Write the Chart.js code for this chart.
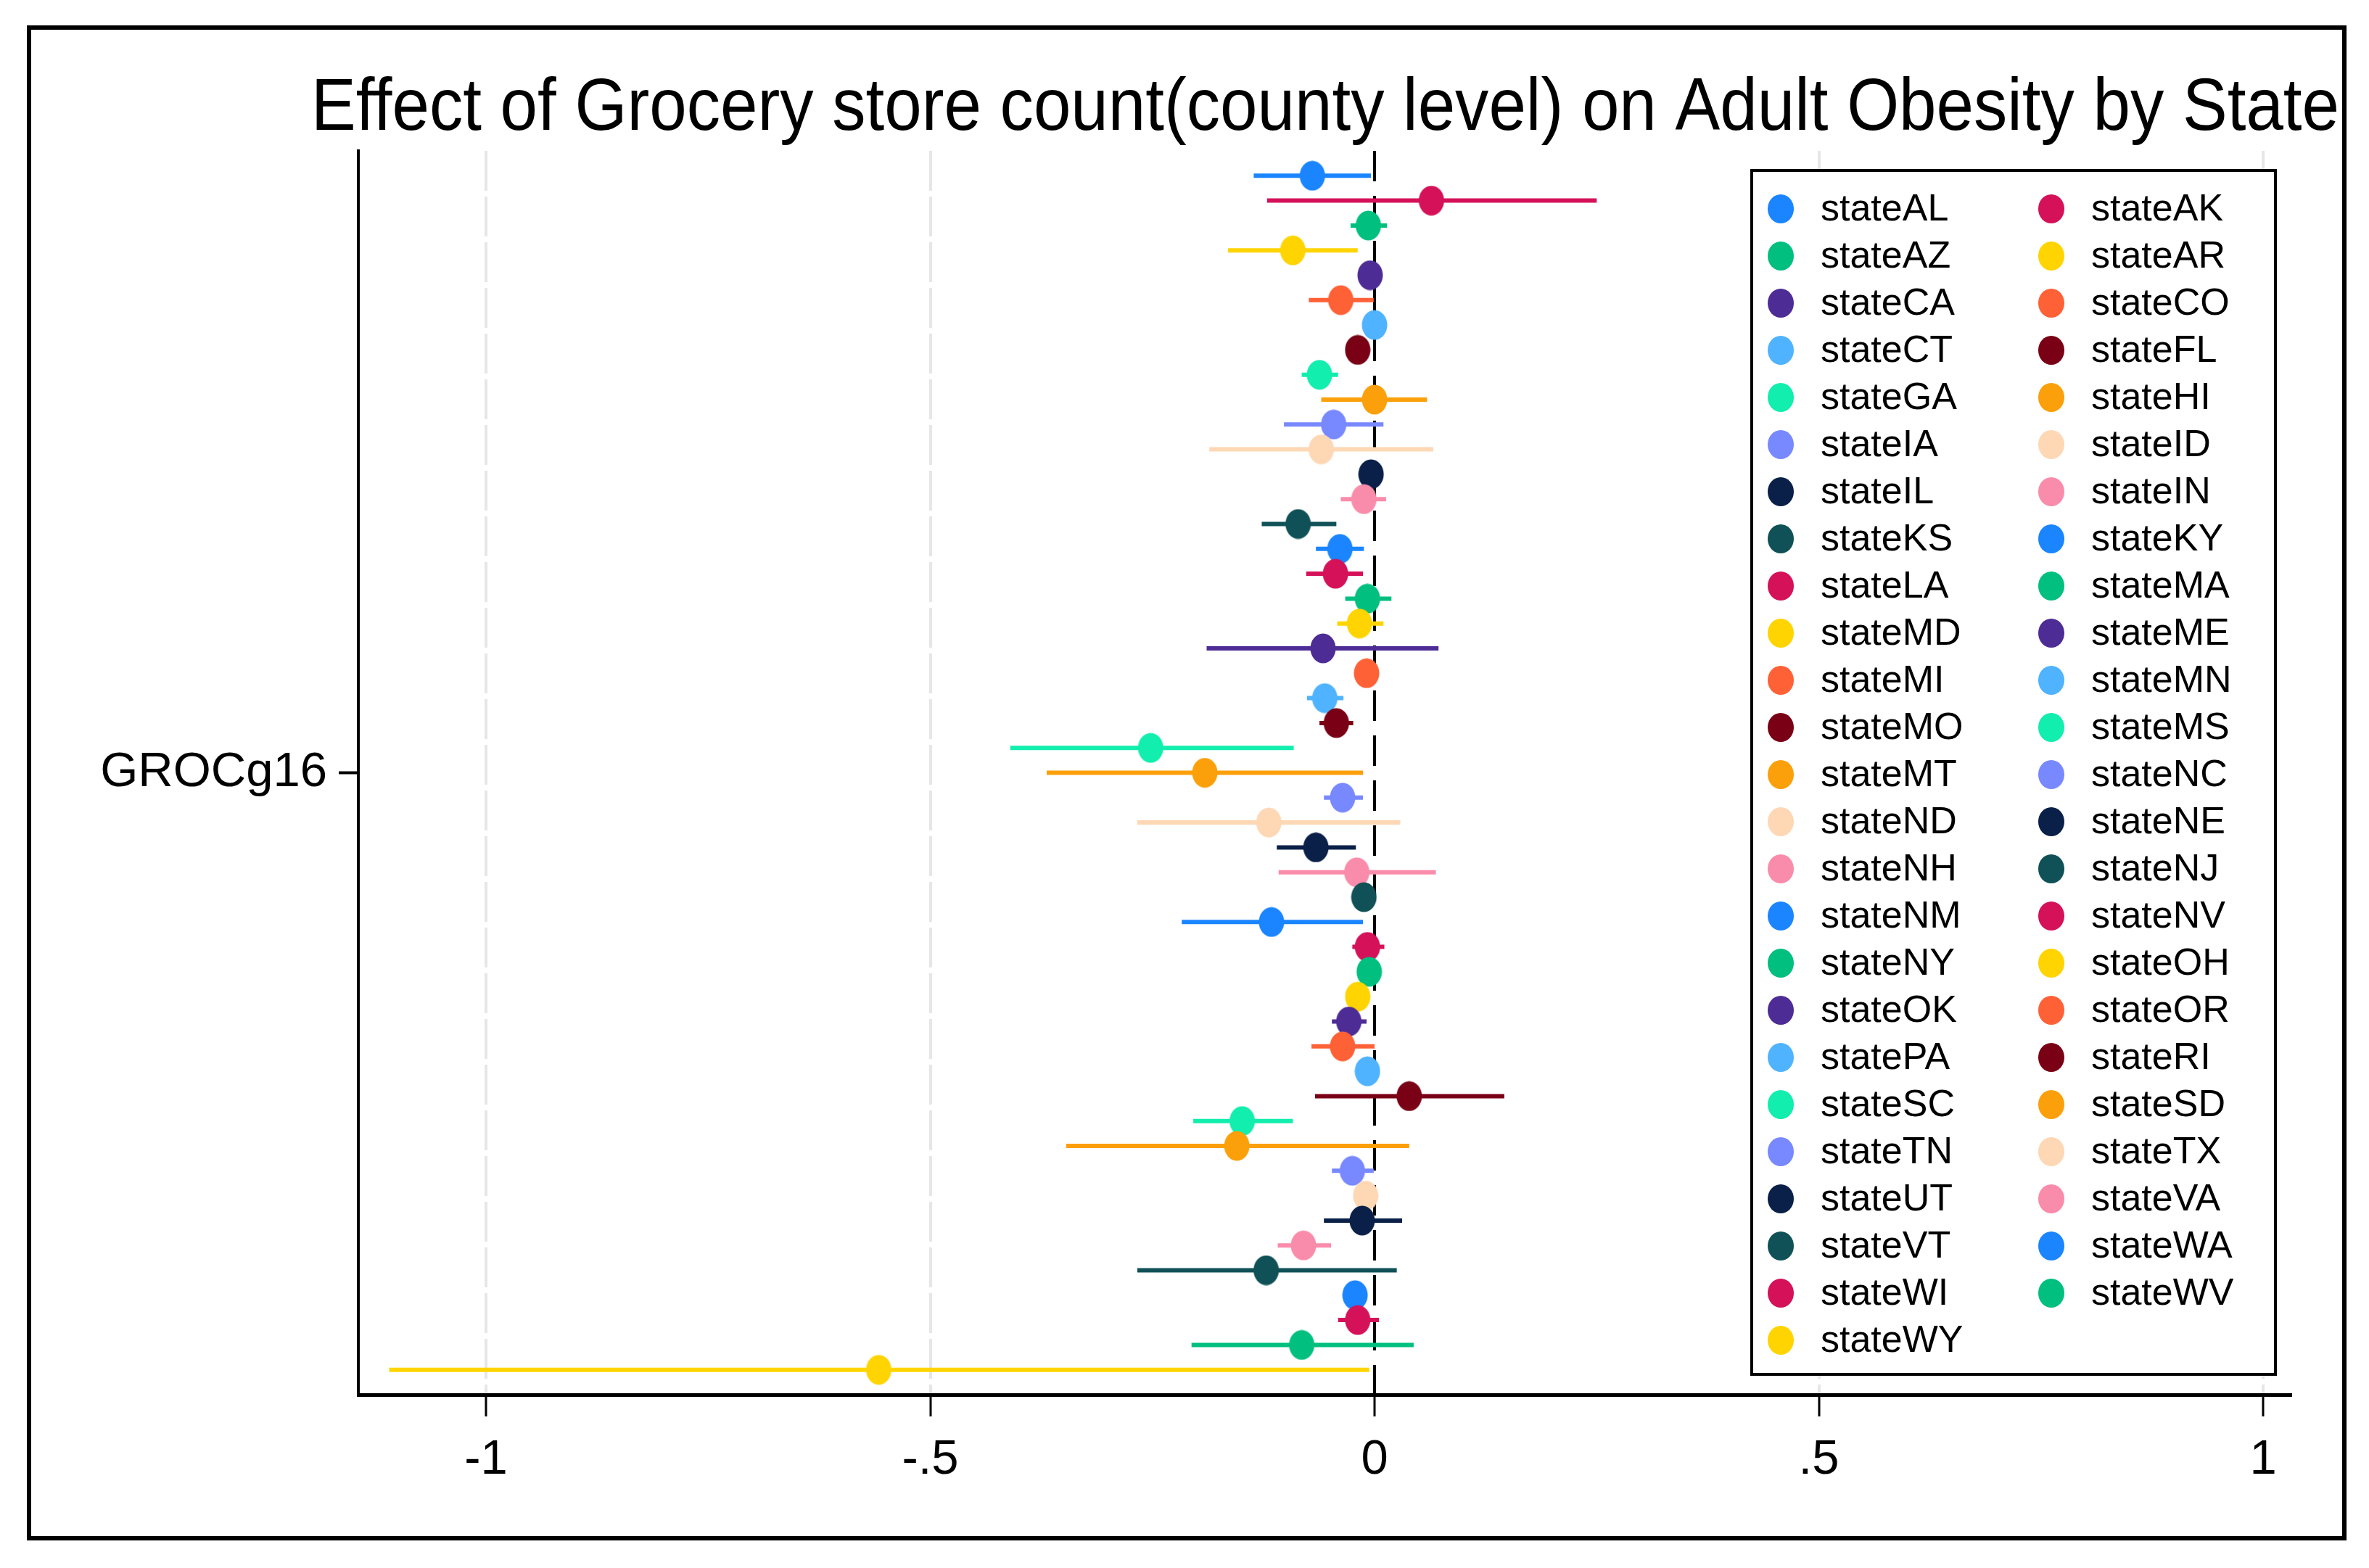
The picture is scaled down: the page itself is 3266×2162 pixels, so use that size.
<!DOCTYPE html>
<html>
<head>
<meta charset="utf-8">
<title>Grocery store count</title>
<script src="https://cdn.jsdelivr.net/npm/chart.js@4.4.1/dist/chart.umd.min.js"></script>
<style>
  html, body { margin: 0; padding: 0; background: #fff; }
  canvas { display: block; }
</style>
</head>
<body>
<canvas id="grafico" width="3266" height="2162"></canvas>
<script>
// === Datos ===
const titulo = "Effect of Grocery store count(county level) on Adult Obesity by State";
const categoria = "GROCg16";

const estados = ["stateAL", "stateAK", "stateAZ", "stateAR", "stateCA", "stateCO", "stateCT", "stateFL",
  "stateGA", "stateHI", "stateIA", "stateID", "stateIL", "stateIN", "stateKS", "stateKY", "stateLA",
  "stateMA", "stateMD", "stateME", "stateMI", "stateMN", "stateMO", "stateMS", "stateMT", "stateNC",
  "stateND", "stateNE", "stateNH", "stateNJ", "stateNM", "stateNV", "stateNY", "stateOH", "stateOK",
  "stateOR", "statePA", "stateRI", "stateSC", "stateSD", "stateTN", "stateTX", "stateUT", "stateVA",
  "stateVT", "stateWA", "stateWI", "stateWV", "stateWY"];

const coef = [-0.070, 0.064, -0.007, -0.092, -0.005, -0.038, 0.000, -0.019,
  -0.062, 0.000, -0.046, -0.060, -0.004, -0.012, -0.086, -0.039, -0.044,
  -0.008, -0.017, -0.058, -0.009, -0.056, -0.043, -0.252, -0.191, -0.036,
  -0.119, -0.066, -0.020, -0.012, -0.116, -0.008, -0.006, -0.019, -0.029,
  -0.036, -0.008, 0.039, -0.149, -0.155, -0.025, -0.010, -0.014, -0.080,
  -0.122, -0.022, -0.019, -0.082, -0.558];

const ciBajo = [-0.136, -0.121, -0.027, -0.165, -0.010, -0.074, -0.005, -0.025,
  -0.082, -0.060, -0.102, -0.186, -0.009, -0.038, -0.127, -0.066, -0.077,
  -0.033, -0.042, -0.189, -0.015, -0.076, -0.062, -0.410, -0.369, -0.057,
  -0.267, -0.110, -0.108, -0.018, -0.217, -0.025, -0.011, -0.025, -0.048,
  -0.071, -0.013, -0.067, -0.204, -0.347, -0.048, -0.016, -0.057, -0.109,
  -0.267, -0.028, -0.041, -0.206, -1.109];

const ciAlto = [-0.004, 0.250, 0.014, -0.019, 0.000, -0.001, 0.005, -0.013,
  -0.041, 0.059, 0.010, 0.066, 0.001, 0.013, -0.043, -0.012, -0.013,
  0.019, 0.010, 0.072, -0.003, -0.035, -0.024, -0.091, -0.013, -0.013,
  0.029, -0.021, 0.069, -0.006, -0.013, 0.011, -0.001, -0.013, -0.009,
  0.000, -0.003, 0.146, -0.092, 0.039, -0.001, -0.004, 0.031, -0.049,
  0.025, -0.016, 0.005, 0.044, -0.006];

const ticksX = [-1, -0.5, 0, 0.5, 1];

// colores de Stata (se repiten cada 15)
const paleta = ["#1a85ff", "#d41159", "#00bf7f", "#ffd400", "#4e2c96", "#ff6137", "#4fb3ff", "#7a0015",
  "#11eead", "#fba00a", "#7888ff", "#fed7b4", "#0a2048", "#fa8cab", "#0f5156"];

const fuente = '"Liberation Sans", Arial, sans-serif';

// marcador eliptico (en la imagen los puntos salen algo estirados en vertical)
function marcador(color) {
  const c = document.createElement("canvas");
  c.width = 36;
  c.height = 42;
  const g = c.getContext("2d");
  g.fillStyle = color;
  g.beginPath();
  g.ellipse(18, 21, 17.5, 20.5, 0, 0, Math.PI * 2);
  g.fill();
  return c;
}

// === Datasets: barra del intervalo + punto ===
const datasets = [];
estados.forEach((nombre, i) => {
  const color = paleta[i % paleta.length];
  datasets.push({
    label: nombre + " ci",
    data: [{x: ciBajo[i], y: i}, {x: ciAlto[i], y: i}],
    showLine: true,
    borderColor: color,
    borderWidth: 6,
    pointRadius: 0,
    pointHoverRadius: 0,
    order: 1000 - i
  });
  datasets.push({
    label: nombre,
    data: [{x: coef[i], y: i}],
    backgroundColor: color,
    pointStyle: marcador(color),
    pointBorderWidth: 0,
    pointRadius: 20,
    pointHoverRadius: 20,
    order: -i,
    esPunto: true
  });
});

function formatoStata(v) {
  if (v === 0) return "0";
  return String(v).replace("0.", ".");
}

// marco, titulo y leyenda
const extras = {
  id: "extras",
  beforeDraw(chart) {
    const ctx = chart.ctx;
    ctx.save();
    ctx.fillStyle = "#fff";
    ctx.fillRect(0, 0, chart.width, chart.height);
    ctx.restore();
  },
  afterDraw(chart) {
    const ctx = chart.ctx;
    ctx.save();

    // marco exterior
    ctx.strokeStyle = "#000";
    ctx.lineWidth = 6;
    ctx.strokeRect(40, 38, 3192, 2083);

    // titulo (fuente estrecha, ajustada al ancho)
    ctx.fillStyle = "#000";
    ctx.font = '102px "Liberation Sans Narrow", "Liberation Sans", Arial, sans-serif';
    ctx.textBaseline = "alphabetic";
    ctx.textAlign = "left";
    const w = ctx.measureText(titulo).width;
    ctx.save();
    ctx.translate(429, 179);
    ctx.scale(2796 / w, 1);
    ctx.fillText(titulo, 0, 0);
    ctx.restore();

    // leyenda
    const caja = {x: 2415, y: 235, w: 722, h: 1660};
    ctx.fillStyle = "#fff";
    ctx.fillRect(caja.x, caja.y, caja.w, caja.h);
    ctx.strokeStyle = "#000";
    ctx.lineWidth = 4;
    ctx.strokeRect(caja.x, caja.y, caja.w, caja.h);

    const puntos = chart.data.datasets.filter(d => d.esPunto);
    ctx.font = "52px " + fuente;
    ctx.textBaseline = "middle";
    puntos.forEach((d, k) => {
      const fila = Math.floor(k / 2);
      const col = k % 2;
      const cy = 288 + fila * 65;
      const mx = col === 0 ? 2455 : 2828;
      const tx = col === 0 ? 2510 : 2883;
      ctx.fillStyle = d.backgroundColor;
      ctx.beginPath();
      ctx.ellipse(mx, cy, 18, 20, 0, 0, Math.PI * 2);
      ctx.fill();
      ctx.fillStyle = "#000";
      ctx.fillText(d.label, tx, cy + 2);
    });

    ctx.restore();
  }
};

new Chart(document.getElementById("grafico"), {
  type: "scatter",
  data: { datasets: datasets },
  options: {
    responsive: false,
    devicePixelRatio: 1,
    animation: false,
    events: [],
    layout: { padding: { top: 208, right: 108, left: 0, bottom: 0 } },
    plugins: {
      legend: { display: false },
      tooltip: { enabled: false },
      title: { display: false }
    },
    scales: {
      x: {
        type: "linear",
        min: -1.1437,
        max: 1.031,
        afterBuildTicks: s => { s.ticks = ticksX.map(v => ({value: v})); },
        afterFit: s => { s.height = 239; },
        ticks: {
          callback: v => formatoStata(v),
          font: { family: fuente, size: 67 },
          color: "#000",
          padding: 20,
          maxRotation: 0,
          autoSkip: false
        },
        grid: {
          display: true,
          drawOnChartArea: true,
          drawTicks: true,
          color: c => (c.tick && c.tick.value === 0) ? "#000" : "#e6e6e6",
          lineWidth: 4,
          tickLength: 30,
          tickColor: "#000",
          tickWidth: 3
        },
        border: {
          display: true,
          color: "#000",
          width: 5,
          dash: c => !c.tick ? [] : (c.tick.value === 0 ? [42, 20] : [55, 8])
        }
      },
      y: {
        type: "linear",
        reverse: true,
        min: -1,
        max: estados.length,
        afterBuildTicks: s => { s.ticks = [{value: (estados.length - 1) / 2}]; },
        afterFit: s => { s.width = 494; },
        ticks: {
          callback: () => categoria,
          font: { family: fuente, size: 67 },
          color: "#000",
          padding: 16,
          autoSkip: false
        },
        grid: {
          display: true,
          drawOnChartArea: false,
          drawTicks: true,
          tickLength: 27,
          tickColor: "#000",
          tickWidth: 4
        },
        border: { display: true, color: "#000", width: 4 }
      }
    }
  },
  plugins: [extras]
});
</script>
</body>
</html>
